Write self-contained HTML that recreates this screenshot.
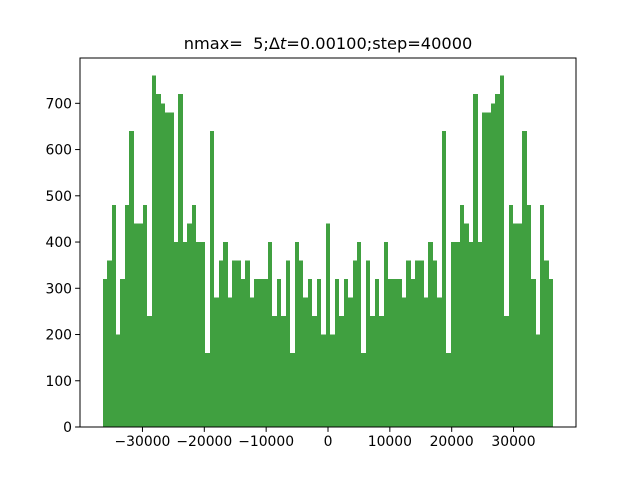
<!DOCTYPE html>
<html><head><meta charset="utf-8"><style>
html,body{margin:0;padding:0;background:#fff;}
svg text{font-family:"DejaVu Sans","Liberation Sans",sans-serif;}
</style></head><body>
<svg id="chart" width="640" height="480" viewBox="0 0 640 480" xmlns="http://www.w3.org/2000/svg">
<rect x="0" y="0" width="640" height="480" fill="#fff"/>
<text x="328" y="49" font-size="16.2" text-anchor="middle" style="white-space:pre">nmax=  5;Δ<tspan font-style="italic">t</tspan>=0.00100;step=40000</text>
<g id="bars" shape-rendering="crispEdges"></g>
<g id="axes"></g>
</svg>
<script>
const leftCounts = [320,360,480,200,320,480,640,440,440,480,240,760,720,700,680,680,400,720,400,440,480,400,400,160,640,280,360,400,280,360,360,320,360,280,320,320,320,400,240,320,240,360,160,400,360,280,320,240,320,200];
const centerCount = [440];
const counts = leftCounts.concat(centerCount, leftCounts.slice().reverse());
const dataMin = -36450, dataMax = 36450;
const xTicks = [-30000,-20000,-10000,0,10000,20000,30000];
const xTickLabels = ["\u221230000","\u221220000","\u221210000","0","10000","20000","30000"];
const yTicks = [0,100,200,300,400,500,600,700];

const L=80,R=576,T=58,B=427;
const xmin=-40100,xmax=40100,ymin=0,ymax=798;
const sx=v=>L+(v-xmin)/(xmax-xmin)*(R-L);
const sy=v=>B-(v-ymin)/(ymax-ymin)*(B-T);
const NS="http://www.w3.org/2000/svg";
function mk(tag,attrs,parent){const e=document.createElementNS(NS,tag);for(const k in attrs)e.setAttribute(k,attrs[k]);parent.appendChild(e);return e;}
const bars=document.getElementById('bars'), axes=document.getElementById('axes');
const n=counts.length, w=(dataMax-dataMin)/n;
counts.forEach((c,i)=>{
  const x0=Math.round(sx(dataMin+i*w)), x1=Math.round(sx(dataMin+(i+1)*w));
  const r=mk('rect',{x:x0,y:sy(c),width:x1-x0,height:sy(0)-sy(c),fill:'#40a040'},bars);
  
  
});
const frame=mk('rect',{x:L,y:T,width:R-L,height:B-T,fill:'none',stroke:'#000','stroke-width':1},axes);


xTicks.forEach((v,i)=>{
  const x=sx(v);
  const t=mk('line',{x1:x,x2:x,y1:B,y2:B+4.9,stroke:'#000','stroke-width':1},axes);
  
  
  const lb=mk('text',{x:x,y:B+19,'font-size':13.9,'text-anchor':'middle'},axes);
  lb.textContent=xTickLabels[i];
  
  
});
yTicks.forEach(v=>{
  const y=sy(v);
  const t=mk('line',{x1:L-4.9,x2:L,y1:y,y2:y,stroke:'#000','stroke-width':1},axes);
  
  
  const lb=mk('text',{x:L-8,y:y+5,'font-size':13.9,'text-anchor':'end'},axes);
  lb.textContent=String(v);
  
  
});
</script>
</body></html>
